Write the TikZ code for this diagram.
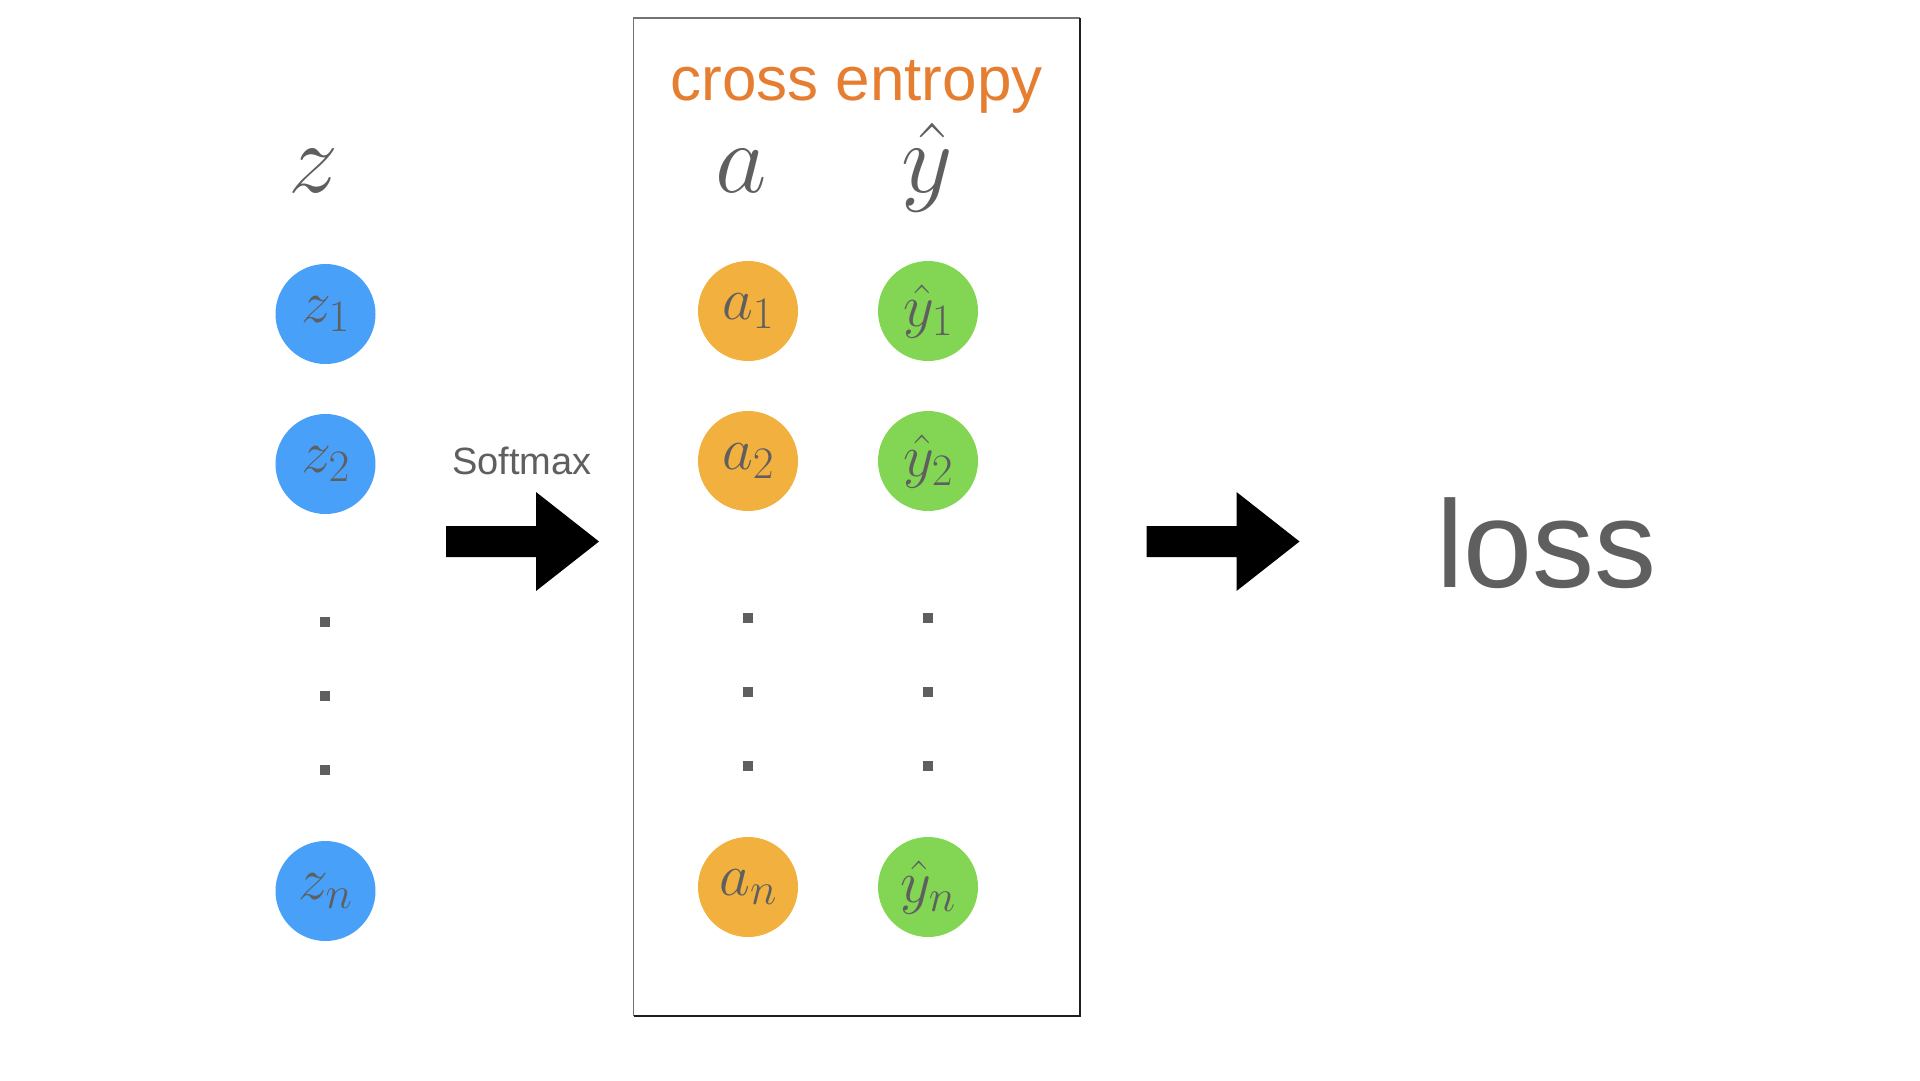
\RequirePackage{fix-cm}
\documentclass[tikz,border=0pt]{standalone}
\usepackage[no-math]{fontspec}
\newfontfamily\sansfnt{Liberation Sans}
\DeclareMathSizes{60}{60}{45}{34}
\definecolor{zblue}{RGB}{72,160,248}
\definecolor{aorange}{RGB}{242,176,62}
\definecolor{ygreen}{RGB}{130,214,84}
\definecolor{txtgray}{RGB}{95,95,95}
\definecolor{ceorange}{RGB}{230,126,50}
\tikzset{
  unit/.style={circle, minimum size=100pt, inner sep=0pt, text=txtgray,
    font=\fontsize{60}{64}\selectfont},
  zunit/.style={unit, fill=zblue},
  aunit/.style={unit, fill=aorange},
  yunit/.style={unit, fill=ygreen},
  vdot/.style={rectangle, minimum size=10pt, inner sep=0pt, fill=txtgray},
  collabel/.style={anchor=base, text=txtgray, inner sep=0pt, font=\fontsize{100}{110}\selectfont},
  bigarrow/.style={fill=black},
  boxlight/.style={draw=black!55, line width=1.5pt},
  boxdark/.style={draw=black!88, line width=1.5pt}
}
\begin{document}
\begin{tikzpicture}[x=1pt,y=-1pt]
\useasboundingbox (0,0) rectangle (1920,1080);
% frame
\coordinate (tl) at (633.5,18);
\coordinate (tr) at (1080,18);
\coordinate (bl) at (633.5,1016);
\coordinate (br) at (1080,1016);
\draw[boxlight] (tr) -- (tl) -- (bl);
\draw[boxdark] (bl) -- (br) -- (tr);
% column labels
\node[collabel] (zlab) at (313,192) {$z$};
\node[collabel] (alab) at (741,192) {$a$};
\node[collabel] (ylab) at (927,192) {$\hat{y}$};
\node[anchor=base, inner sep=0pt, text=ceorange, font=\sansfnt\fontsize{62}{70}\selectfont] (ce) at (856.5,100) {cross entropy};
% z column
\node[zunit] (z1) at (325.5,314) {$z_1$};
\node[zunit] (z2) at (325.5,464) {$z_2$};
\node[zunit] (zn) at (325.5,891) {$z_n$};
\node[vdot] (zd1) at (325,622) {};
\node[vdot] (zd2) at (325,696) {};
\node[vdot] (zd3) at (325,770) {};
% a column
\node[aunit] (a1) at (748,311) {$a_1$};
\node[aunit] (a2) at (748,461) {$a_2$};
\node[aunit] (an) at (748,887) {$a_n$};
\node[vdot] (ad1) at (748,618) {};
\node[vdot] (ad2) at (748,692) {};
\node[vdot] (ad3) at (748,766) {};
% yhat column
\node[yunit] (y1) at (928,311) {$\hat{y}_1$};
\node[yunit] (y2) at (928,461) {$\hat{y}_2$};
\node[yunit] (yn) at (928,887) {$\hat{y}_n$};
\node[vdot] (yd1) at (928,618) {};
\node[vdot] (yd2) at (928,692) {};
\node[vdot] (yd3) at (928,766) {};
% softmax arrow
\node[anchor=base, inner sep=0pt, text=txtgray, font=\sansfnt\fontsize{38}{44}\selectfont] (sm) at (522,474) {Softmax};
\fill[bigarrow] (446,526) -- (536,526) -- (536,492) -- (599,541.5) -- (536,591) -- (536,557) -- (446,557) -- cycle;
% second arrow
\fill[bigarrow] (1146.5,526) -- (1236.5,526) -- (1236.5,492) -- (1299.5,541.5) -- (1236.5,591) -- (1236.5,557) -- (1146.5,557) -- cycle;
% loss
\node[anchor=base west, inner sep=0pt, text=txtgray, font=\sansfnt\fontsize{124}{136}\selectfont] (loss) at (1436,587) {loss};
\end{tikzpicture}
\end{document}
